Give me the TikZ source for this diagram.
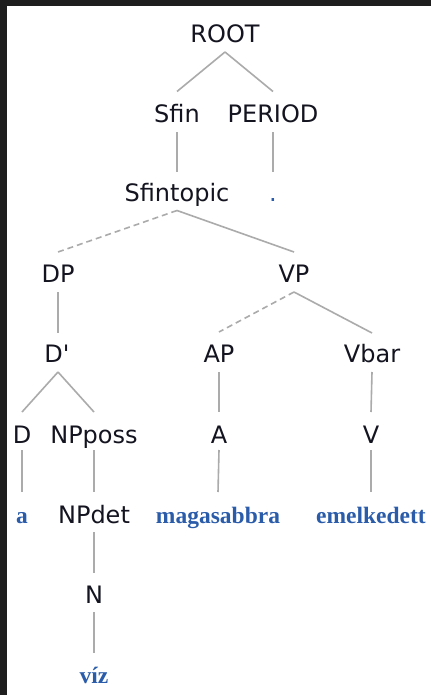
\documentclass[tikz,border=0pt]{standalone}
\usepackage{fontspec}
\newfontfamily\labfont{DejaVu Sans}
\newfontfamily\wordfont{Liberation Serif}
\definecolor{frame}{HTML}{1E1E1E}
\definecolor{edge}{HTML}{ABABAB}
\definecolor{wordblue}{HTML}{2A5CAA}
\definecolor{labink}{HTML}{141420}
\begin{document}
\begin{tikzpicture}[x=1pt,y=-1pt,
  cat/.style={anchor=base,inner sep=0pt,font=\labfont\fontsize{24}{28}\selectfont,text=labink},
  word/.style={anchor=base,inner sep=0pt,font=\wordfont\bfseries\fontsize{23.5}{28}\selectfont,text=wordblue},
  branch/.style={draw=edge,line width=1.6pt},
  optbranch/.style={branch,dash pattern=on 6pt off 4pt}]
% canvas and dark frame strips
\fill[white] (0,0) rectangle (431,695);
\fill[frame] (0,0) rectangle (431,6);
\fill[frame] (0,0) rectangle (7,695);
\useasboundingbox (0,0) rectangle (431,695);
% category labels
\node[cat] (root) at (225,43) {ROOT};
\node[cat] (sfin) at (177,122.5) {Sfin};
\node[cat] (period) at (273,122.5) {PERIOD};
\node[cat] (sfintopic) at (177,201.5) {Sfintopic};
\node[cat,text=wordblue] (dot) at (273,201.5) {.};
\node[cat] (dp) at (58,282) {DP};
\node[cat] (vp) at (294,282) {VP};
\node[cat] (dbar) at (57,362) {D\textquotesingle};
\node[cat] (ap) at (219,362) {AP};
\node[cat] (vbar) at (372,362) {Vbar};
\node[cat] (d) at (22,443) {D};
\node[cat] (npposs) at (94,443) {NPposs};
\node[cat] (a) at (219,443) {A};
\node[cat] (v) at (371,443) {V};
\node[cat] (npdet) at (94,523) {NPdet};
\node[cat] (n) at (94,603) {N};
% words
\node[word] (wa) at (22,523) {a};
\node[word] (wmag) at (218,523) {magasabbra};
\node[word] (wemel) at (371,523) {emelkedett};
\node[word] (wviz) at (94,683) {víz};
% branches
\draw[branch] ([yshift=-9pt]root.base) -- ([yshift=31pt]sfin.base);
\draw[branch] ([yshift=-9pt]root.base) -- ([yshift=31pt]period.base);
\draw[branch] ([yshift=-10pt]sfin.base) -- ([yshift=30pt]sfintopic.base);
\draw[branch] ([yshift=-10pt]period.base) -- ([yshift=30pt]dot.base);
\draw[optbranch] ([yshift=-9pt]sfintopic.base) -- ([yshift=30pt]dp.base);
\draw[branch] ([yshift=-9pt]sfintopic.base) -- ([yshift=30pt]vp.base);
\draw[branch] ([yshift=-10pt]dp.base) -- ([yshift=29pt,xshift=1pt]dbar.base);
\draw[optbranch] ([yshift=-10pt]vp.base) -- ([yshift=30pt]ap.base);
\draw[branch] ([yshift=-10pt]vp.base) -- ([yshift=29pt]vbar.base);
\draw[branch] ([yshift=-10pt,xshift=1pt]dbar.base) -- ([yshift=31pt]d.base);
\draw[branch] ([yshift=-10pt,xshift=1pt]dbar.base) -- ([yshift=31pt]npposs.base);
\draw[branch] ([yshift=-10pt]ap.base) -- ([yshift=31pt]a.base);
\draw[branch] ([yshift=-10pt]vbar.base) -- ([yshift=31pt]v.base);
\draw[branch] ([yshift=-7pt]d.base) -- ([yshift=31pt]wa.base);
\draw[branch] ([yshift=-7pt]npposs.base) -- ([yshift=31pt]npdet.base);
\draw[branch] ([yshift=-7pt]a.base) -- ([yshift=31pt]wmag.base);
\draw[branch] ([yshift=-7pt]v.base) -- ([yshift=31pt]wemel.base);
\draw[branch] ([yshift=-9pt]npdet.base) -- ([yshift=30pt]n.base);
\draw[branch] ([yshift=-9pt]n.base) -- ([yshift=30pt]wviz.base);
\end{tikzpicture}
\end{document}
